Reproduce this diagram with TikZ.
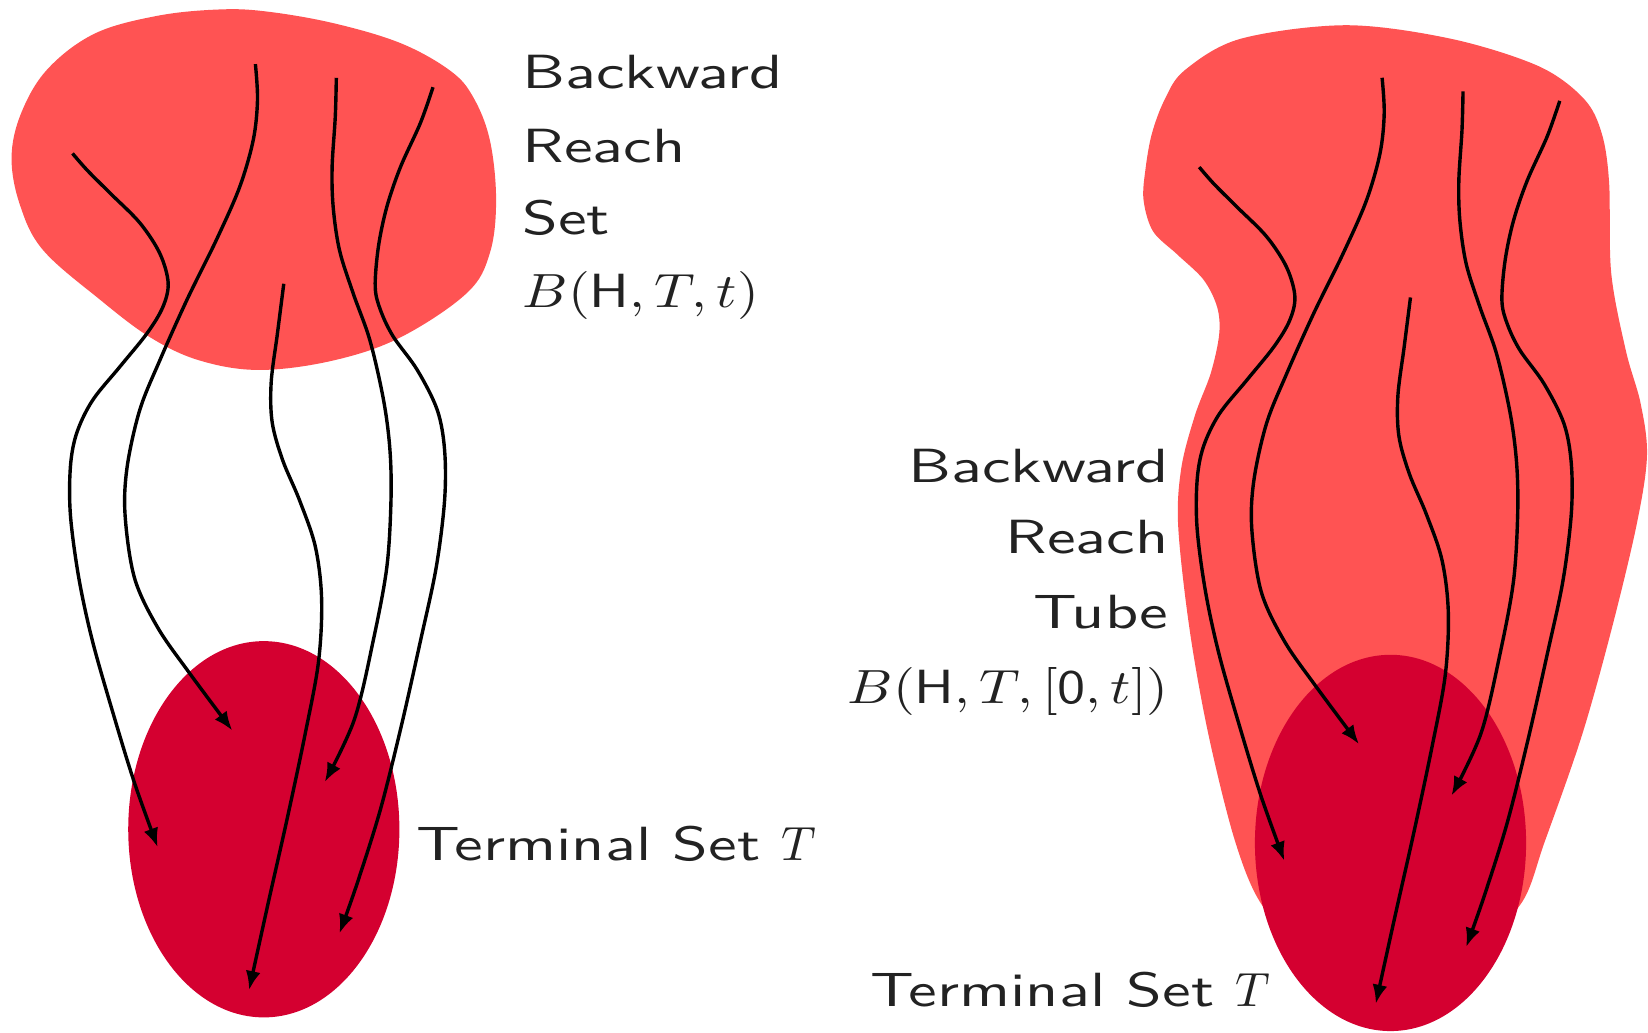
\documentclass[tikz,border=0pt]{standalone}
\DeclareFontFamily{OML}{cmm}{\skewchar\font'177}
\DeclareFontShape{OML}{cmm}{m}{it}{<->cmmi10}{}
\DeclareFontFamily{OMS}{cmsy}{\skewchar\font'60}
\DeclareFontShape{OMS}{cmsy}{m}{n}{<->cmsy10}{}
\DeclareFontShape{OT1}{cmr}{m}{n}{<->cmr10}{}
\usepackage{fontspec}
\usetikzlibrary{arrows.meta}
\newfontfamily\lbl{lmsans10-regular.otf}[FakeStretch=1.34]
\newfontfamily\lblm{lmsans10-regular.otf}
\definecolor{setlight}{RGB}{255,83,83}
\definecolor{setdark}{RGB}{212,0,48}
\definecolor{labtext}{RGB}{34,34,34}
\tikzset{
  traj/.style={line width=3.4pt,-{Latex[length=19pt,width=15pt]},smooth,tension=0.55},
  lab/.style={inner sep=0pt,text=labtext,font=\lbl\fontsize{48}{74}\selectfont},
  mathlab/.style={lab,font=\lblm\fontsize{48}{74}\selectfont,xscale=1.17,transform shape},
}
\newcommand\mytrajectories{%
  \draw[traj] plot coordinates {(69,146) (83,162) (105,184) (133,212) (152,241) (160,269) (155,292) (140,317) (114,349) (88,381) (73,412) (67,444) (67,490) (75,550) (88,610) (108,680) (128,745) (150,806)};
  \draw[traj] plot coordinates {(243,61) (245,95) (241,133) (228,178) (206,228) (178,285) (152,343) (133,390) (121,444) (119,490) (128,550) (150,597) (180,640) (221,695)};
  \draw[traj] plot coordinates {(270,270) (264,317) (258,364) (259,402) (269,438) (285,476) (300,520) (306,570) (303,630) (290,700) (273,780) (255,860) (237,942)};
  \draw[traj] plot coordinates {(320,74) (319,111) (316,159) (317,197) (323,238) (336,279) (352,324) (365,381) (371,428) (372,476) (368,540) (355,610) (337,685) (309,744)};
  \draw[traj] plot coordinates {(412,83) (400,117) (381,159) (368,197) (360,235) (357,273) (362,295) (374,320) (397,352) (416,390) (423,428) (423,476) (415,540) (400,610) (382,690) (362,770) (340,840) (323,888)};
}
\begin{document}
\begin{tikzpicture}[x=1.051pt,y=-1.051pt]
\useasboundingbox (0,0) rectangle (1568,982);
% left: backward reach set
\fill[setlight] plot[smooth cycle,tension=0.6] coordinates {(209,9) (254,11) (317,22) (381,41) (428,67) (450,92) (466,133) (472,190) (466,241) (444,279) (381,321) (317,343) (247,352) (190,343) (143,321) (95,285) (41,238) (19,195) (11,150) (20,108) (45,66) (90,32) (150,15)};
\fill[setdark] (251,789) ellipse [x radius=129, y radius=179];
\mytrajectories
% right: backward reach tube
\fill[setlight] plot[smooth cycle,tension=0.55] coordinates {(1127,67) (1180,37) (1281,24) (1381,37) (1464,63) (1507,94) (1524,127) (1531,174) (1533,260) (1547,334) (1561,384) (1567,434) (1557,500) (1533,600) (1505,700) (1470,800) (1447,860) (1400,900) (1322,910) (1240,900) (1200,860) (1175,800) (1150,700) (1132,600) (1121,501) (1124,445) (1137,395) (1152,355) (1160,318) (1158,292) (1145,266) (1120,242) (1097,220) (1088,190) (1090,160) (1096,127) (1108,95)};
\fill[setdark] (1323,802) ellipse [x radius=129, y radius=179];
\begin{scope}[shift={(1072,13)}]
\mytrajectories
\end{scope}
% labels
\node[lab,anchor=base west] (l1) at (497,84) {Backward};
\node[lab,anchor=base west] (l2) at (497,155) {Reach};
\node[lab,anchor=base west] (l3) at (497,223) {Set};
\node[mathlab,anchor=base west] (l4) at (497,293) {$B(\hbox{H},T,t)$};
\node[lab,anchor=base west] (lt) at (396,819) {Terminal Set $T$};
\node[lab,anchor=base east] (r1) at (1112,459) {Backward};
\node[lab,anchor=base east] (r2) at (1112,527) {Reach};
\node[lab,anchor=base east] (r3) at (1112,598) {Tube};
\node[mathlab,anchor=base east] (r4) at (1112,669) {$B(\hbox{H},T,[\hbox{0},t])$};
\node[lab,anchor=base west] (rt) at (828,958) {Terminal Set $T$};
\end{tikzpicture}
\end{document}
